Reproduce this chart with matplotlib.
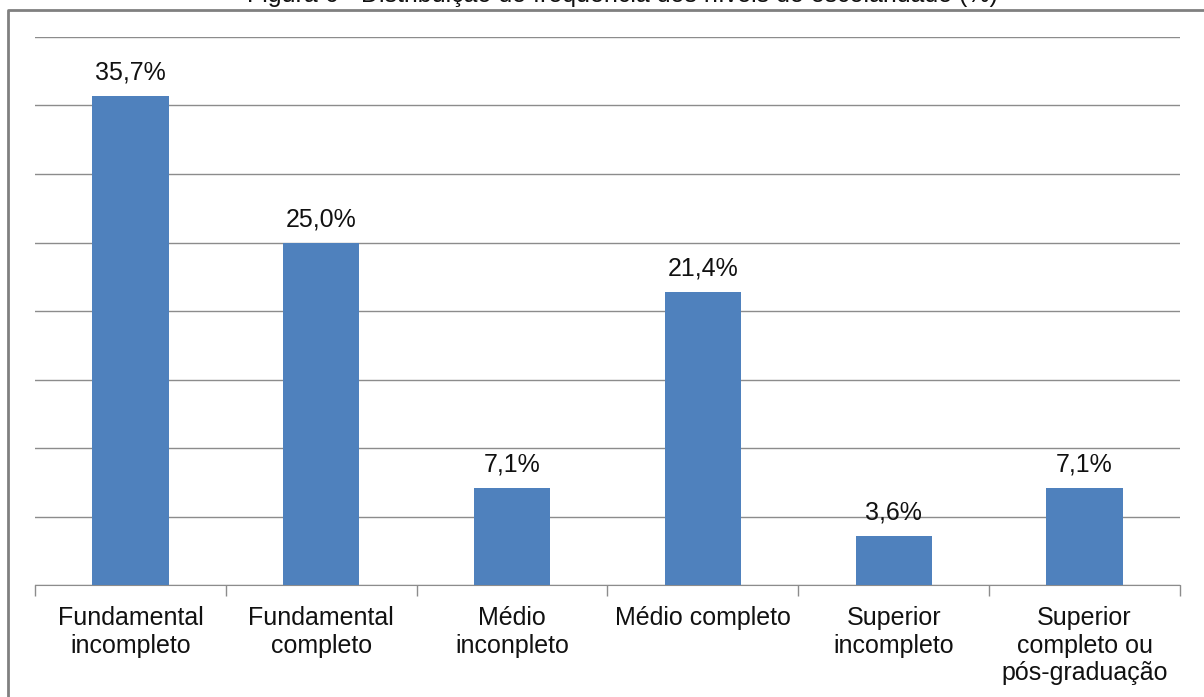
import numpy as np
import matplotlib.pyplot as plt
from matplotlib.lines import Line2D

plt.rcParams['font.family'] = ['Liberation Sans', 'DejaVu Sans']

# escolaridade (%)
categorias = ["Fundamental\nincompleto", "Fundamental\ncompleto", "Médio\ninconpleto",
              "Médio completo", "Superior\nincompleto", "Superior\ncompleto ou\npós-graduação"]
valores = [35.7, 25.0, 7.1, 21.4, 3.6, 7.1]
rotulos = ["35,7%", "25,0%", "7,1%", "21,4%", "3,6%", "7,1%"]

W, H = 1204, 697
FS = 18
fig = plt.figure(figsize=(W / 100, H / 100), dpi=100)
ax = fig.add_axes([35 / W, 1 - 585 / H, (1180 - 35) / W, (585 - 37) / H])

x = np.arange(len(valores))
ax.bar(x, valores, width=0.4, color="#4F81BD", zorder=3)

for xi, v, r in zip(x, valores, rotulos):
    ax.annotate(r, (xi, v), xytext=(0, 8), textcoords="offset points",
                ha="center", va="bottom", fontsize=FS, color="#111111")

ax.set_xlim(-0.5, len(valores) - 0.5)
ax.set_ylim(0, 40)
ax.set_yticks(np.arange(0, 41, 5))
ax.yaxis.grid(True, color="#8c8c8c", linewidth=1)
ax.tick_params(axis="y", left=False, labelleft=False)

ax.set_xticks(x)
ax.set_xticklabels(categorias, fontsize=FS, linespacing=1.2, color="#111111")
ax.set_xticks(np.arange(-0.5, len(valores)), minor=True)
ax.tick_params(axis="x", which="major", length=0, pad=15)
ax.tick_params(axis="x", which="minor", length=8, color="#8c8c8c", width=1)

for s in ["top", "right", "left"]:
    ax.spines[s].set_visible(False)
ax.spines["bottom"].set_color("#8c8c8c")

# moldura (só lados esquerdo e superior aparecem) e título
top = 1 - 10 / H
left = 8 / W
fig.add_artist(Line2D([left, left, 1.0], [0.0, top, top], transform=fig.transFigure,
                      color="#808080", linewidth=2))
fig.text(622 / W, 1 - 7 / H, "Figura 6 - Distribuição de frequência dos níveis de escolaridade (%)",
         ha="center", va="bottom", fontsize=FS, color="#111111")

fig.savefig("out.png", dpi=100)
